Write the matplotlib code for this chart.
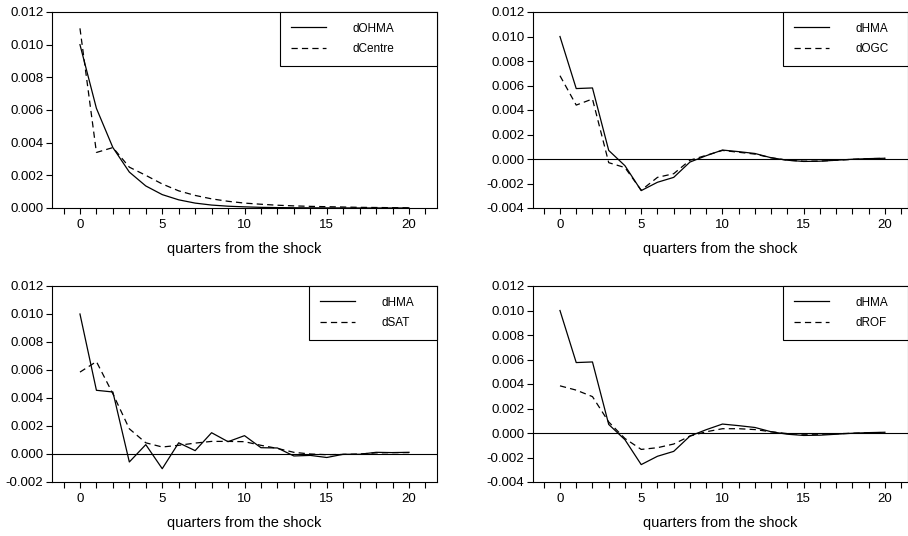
import numpy as np
import matplotlib
matplotlib.use("Agg")
import matplotlib.pyplot as plt
from matplotlib.ticker import MultipleLocator, FormatStrFormatter

quarters = np.arange(21)

# panel 1
dOHMA = [0.0100, 0.0061, 0.0037, 0.0022, 0.00135, 0.00082, 0.0005, 0.0003, 0.00018, 0.00011,
         0.00007, 0.00004, 0.000025, 0.000015, 0.00001, 0.000006, 0.000004, 0.000002, 0.000001, 0.000001, 0.0]
dCentre = [0.0110, 0.0034, 0.0037, 0.0025, 0.0020, 0.00147, 0.00105, 0.00077, 0.00056, 0.00041,
           0.0003, 0.00023, 0.00017, 0.00013, 0.0001, 0.00008, 0.00006, 0.00004, 0.00003, 0.00002, 0.00001]

# panels 2 and 4
dHMA = [0.0100, 0.00575, 0.0058, 0.0007, -0.00055, -0.00258, -0.0019, -0.0015, -0.00025, 0.00027,
        0.00073, 0.0006, 0.00045, 0.0001, -0.0001, -0.0002, -0.00018, -0.0001, -0.00002, 0.00003, 0.00006]
dOGC = [0.0068, 0.0044, 0.0049, -0.0003, -0.0007, -0.00255, -0.0015, -0.0012, -0.0001, 0.0003,
        0.0007, 0.00055, 0.0004, 0.0001, -0.0001, -0.00018, -0.00017, -0.0001, -0.00003, 0.00003, 0.00005]
dROF = [0.00385, 0.0035, 0.00297, 0.0009, -0.00045, -0.00134, -0.0012, -0.0009, -0.00025, 0.0001,
        0.00035, 0.00035, 0.00028, 0.0001, -0.00005, -0.0001, -0.0001, -0.00006, -0.00002, 0.00002, 0.00004]

# panel 3
dHMA_sat = [0.0100, 0.00455, 0.00443, -0.00057, 0.00067, -0.00105, 0.0008, 0.00024, 0.00152, 0.00088,
            0.00131, 0.00045, 0.00043, -0.00014, -0.0001, -0.00025, -0.00002, -0.00002, 0.00012, 0.0001, 0.00012]
dSAT = [0.00585, 0.0066, 0.0043, 0.0018, 0.0008, 0.0005, 0.00062, 0.00078, 0.0009, 0.0009,
        0.00088, 0.00062, 0.0004, 0.00012, 0.0, -0.00005, -0.00003, 0.0, 0.00008, 0.0001, 0.0001]

xlabel = "quarters from the shock"

plt.rcParams['font.family'] = ['Liberation Sans', 'DejaVu Sans']
plt.rcParams['lines.scale_dashes'] = False


def draw_panel(ax, solid, dashed, names, ymin, legend_w, zero_line=True):
    if zero_line:
        ax.axhline(0, color="black", lw=0.8, zorder=1)
    ax.plot(quarters, solid, color="black", lw=0.9, label=names[0])
    ax.plot(quarters, dashed, color="black", lw=0.9, dashes=(4.5, 3), label=names[1])
    ax.set_ylim(ymin, 0.012)
    ax.yaxis.set_major_locator(MultipleLocator(0.002))
    ax.yaxis.set_major_formatter(FormatStrFormatter('%.3f'))
    ax.xaxis.set_major_locator(MultipleLocator(5))
    ax.xaxis.set_minor_locator(MultipleLocator(1))
    ax.tick_params(axis='both', which='both', direction='out', length=4.2, width=0.8,
                   labelsize=9.5, colors='black')
    ax.tick_params(axis='y', pad=2)
    ax.tick_params(axis='x', pad=3.5)
    for s in ax.spines.values():
        s.set_linewidth(0.8)
    ax.set_xlabel(xlabel, fontsize=10.5, labelpad=8)
    leg = ax.legend(loc='upper right', bbox_to_anchor=(1 - legend_w, 0, legend_w, 1.0),
                    mode='expand', borderaxespad=0, fancybox=False, edgecolor='black',
                    framealpha=1, fontsize=8.5, handlelength=3.0, handletextpad=2.2,
                    borderpad=0.9, labelspacing=0.75)
    leg.get_frame().set_linewidth(0.8)
    return ax


def main() -> None:
    fig = plt.figure(figsize=(9.08, 5.36), dpi=100)
    H = 536.0
    W = 908.0
    top_y = (H - 208) / H
    bot_y = (H - 482) / H
    hgt = 196 / H

    ax1 = fig.add_axes([52 / W, top_y, 385 / W, hgt])
    ax1.set_xlim(-1.7, 21.7)
    draw_panel(ax1, dOHMA, dCentre, ["dOHMA", "dCentre"], 0.0, 157 / 385, zero_line=False)

    ax2 = fig.add_axes([533 / W, top_y, 375 / W, hgt])
    ax2.set_xlim(-1.66, 21.42)
    draw_panel(ax2, dHMA, dOGC, ["dHMA", "dOGC"], -0.004, 125 / 375)

    ax3 = fig.add_axes([52 / W, bot_y, 385 / W, hgt])
    ax3.set_xlim(-1.7, 21.7)
    draw_panel(ax3, dHMA_sat, dSAT, ["dHMA", "dSAT"], -0.002, 128 / 385)

    ax4 = fig.add_axes([533 / W, bot_y, 375 / W, hgt])
    ax4.set_xlim(-1.66, 21.42)
    draw_panel(ax4, dHMA, dROF, ["dHMA", "dROF"], -0.004, 125 / 375)

    fig.savefig("out.png", dpi=100)


if __name__ == "__main__":
    main()
